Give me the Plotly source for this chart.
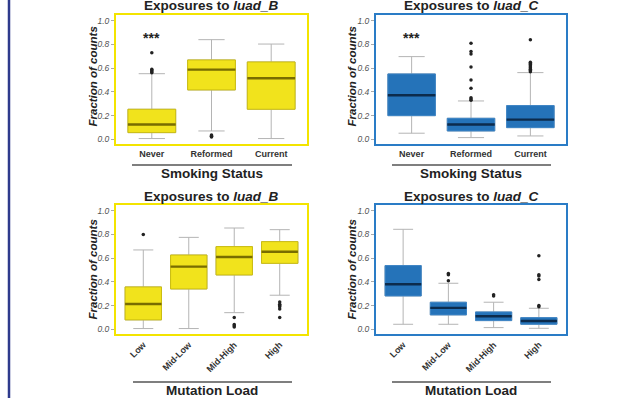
import plotly.graph_objects as go

# ---------------- data ----------------
smoking_cats = ["Never", "Reformed", "Current"]
mutation_cats = ["Low", "Mid-Low", "Mid-High", "High"]

# luad_B by smoking status
b_smk_q1 = [0.056, 0.416, 0.253]
b_smk_med = [0.124, 0.587, 0.514]
b_smk_q3 = [0.253, 0.669, 0.652]
b_smk_lo = [0.006, 0.070, 0.006]
b_smk_hi = [0.553, 0.840, 0.803]
b_smk_out = {"Never": [0.56, 0.57, 0.58, 0.59, 0.73],
             "Reformed": [0.02, 0.025, 0.03, 0.036],
             "Current": []}

# luad_C by smoking status
c_smk_q1 = [0.199, 0.070, 0.098]
c_smk_med = [0.371, 0.124, 0.166]
c_smk_q3 = [0.551, 0.177, 0.284]
c_smk_lo = [0.051, 0.014, 0.028]
c_smk_hi = [0.697, 0.323, 0.562]
c_smk_out = {"Never": [],
             "Reformed": [0.33, 0.34, 0.35, 0.43, 0.50, 0.61, 0.72, 0.74, 0.81],
             "Current": [0.57, 0.58, 0.59, 0.60, 0.61, 0.62, 0.63, 0.64, 0.65, 0.84]}

# luad_B by mutation load
b_mut_q1 = [0.079, 0.340, 0.458, 0.556]
b_mut_med = [0.213, 0.528, 0.610, 0.654]
b_mut_q3 = [0.357, 0.626, 0.697, 0.739]
b_mut_lo = [0.006, 0.006, 0.140, 0.287]
b_mut_hi = [0.669, 0.775, 0.854, 0.840]
b_mut_out = {"Low": [0.80], "Mid-Low": [],
             "Mid-High": [0.02, 0.03, 0.04, 0.10],
             "High": [0.10, 0.17, 0.19, 0.20, 0.21, 0.23]}

# luad_C by mutation load
c_mut_q1 = [0.281, 0.121, 0.073, 0.042]
c_mut_med = [0.379, 0.180, 0.110, 0.070]
c_mut_q3 = [0.537, 0.228, 0.146, 0.098]
c_mut_lo = [0.042, 0.042, 0.014, 0.008]
c_mut_hi = [0.843, 0.388, 0.228, 0.177]
c_mut_out = {"Low": [], "Mid-Low": [0.41, 0.46, 0.47],
             "Mid-High": [0.28, 0.29],
             "High": [0.19, 0.20, 0.42, 0.45, 0.46, 0.62]}

y_ticks = [0.0, 0.2, 0.4, 0.6, 0.8, 1.0]
signif_label = "***"
signif_value = 0.857

# ---------------- styling ----------------
W, H = 621, 398
FONT = "Liberation Sans, Arial, sans-serif"
YEL_FILL, YEL_LINE, YEL_MED, YEL_FRAME = "#f1e31c", "#cbbd10", "#786c00", "#f3e400"
BLU_FILL, BLU_LINE, BLU_MED, BLU_FRAME = "#2573b9", "#3d85c6", "#0c2b4c", "#2a7cc6"
WHISK = "#b4b4b4"

fig = go.Figure()


def px_x(p):
    return p / W


def px_y(p):
    return 1 - p / H


panels = [
    ("", smoking_cats, b_smk_q1, b_smk_med, b_smk_q3, b_smk_lo, b_smk_hi, b_smk_out,
     (YEL_FILL, YEL_LINE, YEL_MED), True),
    ("2", smoking_cats, c_smk_q1, c_smk_med, c_smk_q3, c_smk_lo, c_smk_hi, c_smk_out,
     (BLU_FILL, BLU_LINE, BLU_MED), True),
    ("3", mutation_cats, b_mut_q1, b_mut_med, b_mut_q3, b_mut_lo, b_mut_hi, b_mut_out,
     (YEL_FILL, YEL_LINE, YEL_MED), False),
    ("4", mutation_cats, c_mut_q1, c_mut_med, c_mut_q3, c_mut_lo, c_mut_hi, c_mut_out,
     (BLU_FILL, BLU_LINE, BLU_MED), False),
]

for suf, cats, q1, med, q3, lo, hi, outs, (fill, line, medc), sig in panels:
    xa, ya = "x" + suf, "y" + suf
    # whiskers with caps
    fig.add_trace(go.Box(x=cats, q1=q1, median=med, q3=q3, lowerfence=lo, upperfence=hi,
                         xaxis=xa, yaxis=ya, fillcolor="rgba(0,0,0,0)",
                         line=dict(color=WHISK, width=1), whiskerwidth=0.55,
                         width=0.8, boxpoints=False, showlegend=False, hoverinfo="skip"))
    # box body
    fig.add_trace(go.Box(x=cats, q1=q1, median=med, q3=q3, lowerfence=q1, upperfence=q3,
                         xaxis=xa, yaxis=ya, fillcolor=fill,
                         line=dict(color=line, width=1), whiskerwidth=0,
                         width=0.8, boxpoints=False, showlegend=False, hoverinfo="skip"))
    # median line
    fig.add_trace(go.Box(x=cats, q1=med, median=med, q3=med, lowerfence=med, upperfence=med,
                         xaxis=xa, yaxis=ya, fillcolor=medc,
                         line=dict(color=medc, width=2.4), whiskerwidth=0,
                         width=0.8, boxpoints=False, showlegend=False, hoverinfo="skip"))
    # outliers
    ox, oy = [], []
    for c in cats:
        for v in outs[c]:
            ox.append(c)
            oy.append(v)
    fig.add_trace(go.Scatter(x=ox, y=oy, xaxis=xa, yaxis=ya, mode="markers",
                             marker=dict(color="#222222", size=3.5),
                             showlegend=False, hoverinfo="skip"))
    if sig:
        fig.add_annotation(x=cats[0], y=signif_value, xref=xa, yref=ya,
                           text="<b>" + signif_label + "</b>",
                           showarrow=False, font=dict(family=FONT, size=14, color="#222"))

# axes
left_dom = [px_x(116), px_x(307)]
right_dom = [px_x(376), px_x(566)]
top_dom = [px_y(144), px_y(15)]
bot_dom = [px_y(334), px_y(205)]

axis_specs = [
    ("", left_dom, top_dom, YEL_FRAME, smoking_cats, 0),
    ("2", right_dom, top_dom, BLU_FRAME, smoking_cats, 0),
    ("3", left_dom, bot_dom, YEL_FRAME, mutation_cats, -45),
    ("4", right_dom, bot_dom, BLU_FRAME, mutation_cats, -45),
]

lay = {}
for suf, xd, yd, frame, cats, ang in axis_specs:
    n = len(cats)
    lay["xaxis" + suf] = dict(domain=xd, anchor="y" + suf, type="category",
                              categoryorder="array", categoryarray=cats,
                              range=[-0.6, n - 1 + 0.6],
                              showline=True, mirror=True, linecolor=frame, linewidth=2,
                              showgrid=False, zeroline=False, ticks="",
                              tickangle=ang,
                              tickfont=dict(family=FONT, size=9, color="#333", weight="bold"))
    lay["yaxis" + suf] = dict(domain=yd, anchor="x" + suf, range=[-0.04, 1.048],
                              tickvals=y_ticks, ticktext=["%.1f" % v for v in y_ticks],
                              showline=True, mirror=True, linecolor=frame, linewidth=2,
                              showgrid=False, zeroline=False, ticks="outside", ticklen=3,
                              tickcolor="#aaaaaa",
                              tickfont=dict(family=FONT, size=8.5, color="#555", style="italic"))

# panel titles, axis titles and separators
titles = [
    (211.5, 6, "luad_B"), (471, 6, "luad_C"),
    (211.5, 196.8, "luad_B"), (471, 196.8, "luad_C"),
]
for cx, cy, name in titles:
    fig.add_annotation(x=px_x(cx), y=px_y(cy), xref="paper", yref="paper",
                       text="<b>Exposures to <i>" + name + "</i></b>", showarrow=False,
                       xanchor="center", yanchor="middle",
                       font=dict(family=FONT, size=13.5, color="#222"))

for cx, cy in [(92.5, 77), (351.5, 77), (92.5, 270), (351.5, 270)]:
    fig.add_annotation(x=px_x(cx), y=px_y(cy), xref="paper", yref="paper",
                       text="<b><i>Fraction of counts</i></b>", textangle=-90, showarrow=False,
                       xanchor="center", yanchor="middle",
                       font=dict(family=FONT, size=11.5, color="#222"))

xtitles = [(211.5, 173.5, "Smoking Status"), (471, 173.5, "Smoking Status"),
           (211.5, 390.5, "Mutation Load"), (471, 390.5, "Mutation Load")]
for cx, cy, t in xtitles:
    fig.add_annotation(x=px_x(cx), y=px_y(cy), xref="paper", yref="paper",
                       text="<b>" + t + "</b>", showarrow=False,
                       xanchor="center", yanchor="middle",
                       font=dict(family=FONT, size=13.5, color="#222"))

shapes = []
for x0, x1, yy in [(132, 292, 165), (392, 551, 165), (133, 292, 382), (392, 551, 382)]:
    shapes.append(dict(type="line", xref="paper", yref="paper",
                       x0=px_x(x0), x1=px_x(x1), y0=px_y(yy), y1=px_y(yy),
                       line=dict(color="#555555", width=1.3)))
shapes.append(dict(type="line", xref="paper", yref="paper",
                   x0=px_x(9), x1=px_x(9), y0=0, y1=1,
                   line=dict(color="#2e3a8c", width=2.5)))

fig.update_layout(width=W, height=H, margin=dict(l=0, r=0, t=0, b=0),
                  paper_bgcolor="white", plot_bgcolor="white",
                  boxmode="overlay", showlegend=False, shapes=shapes, **lay)

fig.write_html("out.html", config={"displayModeBar": False},
               post_script="document.body.style.margin='0';document.body.style.overflow='hidden';")
